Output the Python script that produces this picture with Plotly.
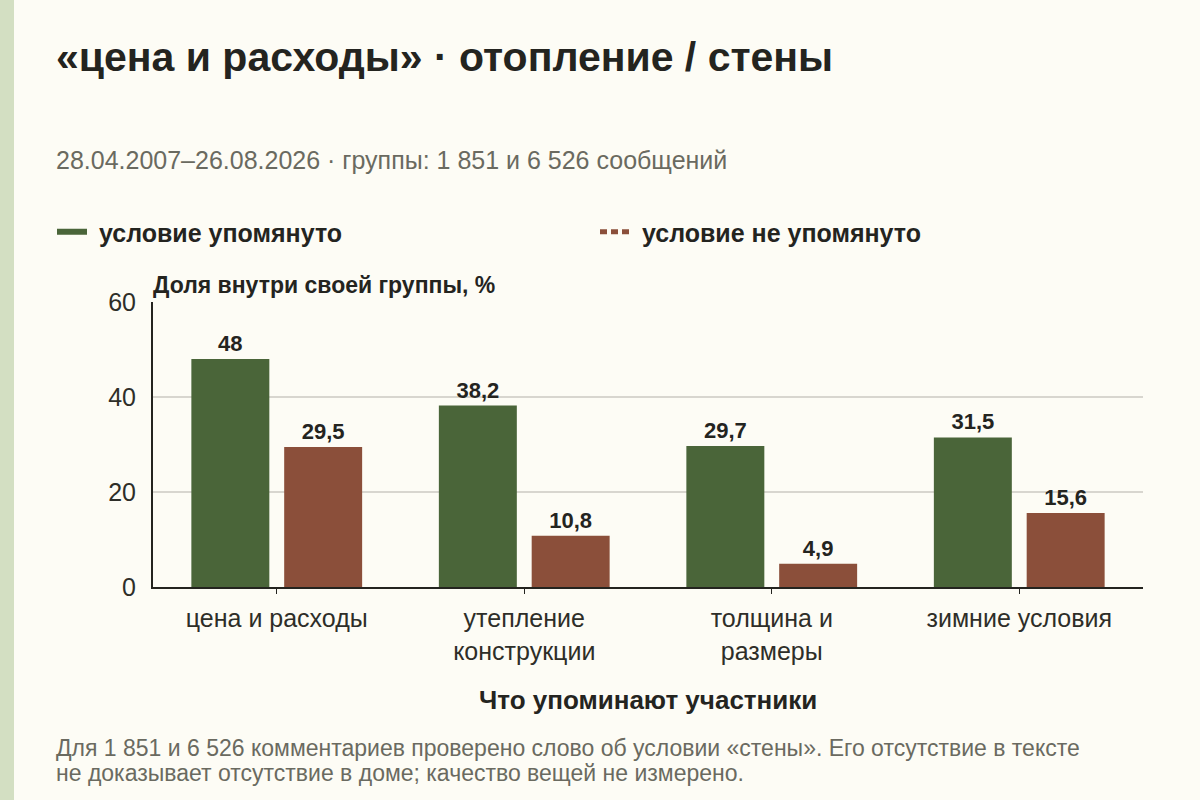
import plotly.graph_objects as go

categories = ["цена и расходы", "утепление<br>конструкции", "толщина и<br>размеры", "зимние условия"]
mentioned = [48, 38.2, 29.7, 31.5]
not_mentioned = [29.5, 10.8, 4.9, 15.6]
series_names = ["условие упомянуто", "условие не упомянуто"]
y_ticks = [0, 20, 40, 60]

GREEN = "#4a6539"
BROWN = "#8b4f3a"
BG = "#fdfcf5"
DARK = "#24241f"
GRAY = "#6a6a60"
FONT = "Liberation Sans, Arial, sans-serif"

def fmt(v):
    return f"{v:g}".replace(".", ",")

fig = go.Figure()
for vals, color in [(mentioned, GREEN), (not_mentioned, BROWN)]:
    fig.add_trace(go.Bar(
        x=categories, y=vals, marker_color=color, marker_line_width=0,
        text=[fmt(v) for v in vals], textposition="outside",
        textfont=dict(family=FONT, size=22, color=DARK, weight="bold"),
        cliponaxis=False, showlegend=False, hoverinfo="skip",
    ))

# legend entries (line symbols)
fig.add_trace(go.Scatter(x=[None], y=[None], mode="lines", name="\u00a0" + series_names[0],
                         line=dict(color=GREEN, width=6)))
fig.add_trace(go.Scatter(x=[None], y=[None], mode="lines", name="\u00a0" + series_names[1],
                         line=dict(color=BROWN, width=5, dash="7px,4px")))

W_PLOT = 1200 - 153 - 57
H_PLOT = 285
LEFT = (54 - 153) / W_PLOT
fig.update_layout(
    width=1200, height=800,
    paper_bgcolor=BG, plot_bgcolor=BG,
    margin=dict(l=153, r=57, t=302, b=213),
    barmode="group", bargap=0.25, bargroupgap=0.16,
    font=dict(family=FONT, color=DARK),
    separators=", ",
    showlegend=True,
    legend=dict(orientation="h", x=(52 - 153) / W_PLOT, xanchor="left",
                y=1 + (302 - 232) / H_PLOT, yanchor="middle",
                font=dict(family=FONT, size=25, color=DARK, weight="bold"),
                entrywidth=498, entrywidthmode="pixels", bgcolor="rgba(0,0,0,0)",
                itemclick=False),
    xaxis=dict(showline=True, linecolor=DARK, linewidth=2, ticks="outside",
               ticklen=5, tickcolor=DARK, tickwidth=1, ticklabelstandoff=3,
               tickfont=dict(family=FONT, size=25, color="#2e2e28"), showgrid=False),
    yaxis=dict(range=[0, 60], tickvals=y_ticks, showline=True, linecolor=DARK,
               linewidth=2, gridcolor="#d8d6cf", gridwidth=1.5, zeroline=False,
               ticks="", ticklabelstandoff=10,
               tickfont=dict(family=FONT, size=25, color="#2e2e28")),
    shapes=[dict(type="rect", xref="paper", yref="paper",
                 x0=-153 / W_PLOT, x1=(14 - 153) / W_PLOT, y0=-213 / H_PLOT, y1=1 + 302 / H_PLOT,
                 fillcolor="#d3dfc2", line_width=0, layer="below")],
    annotations=[
        dict(text="«цена и расходы» · отопление / стены", xref="paper", yref="paper",
             x=LEFT, y=1 + (302 - 57) / H_PLOT, xanchor="left", yanchor="middle",
             showarrow=False, font=dict(family=FONT, size=41, color=DARK, weight="bold")),
        dict(text="28.04.2007–26.08.2026 · группы: 1 851 и 6 526 сообщений", xref="paper", yref="paper",
             x=LEFT, y=1 + (302 - 160) / H_PLOT, xanchor="left", yanchor="middle",
             showarrow=False, font=dict(family=FONT, size=25, color=GRAY)),
        dict(text="Доля внутри своей группы, %", xref="paper", yref="paper",
             x=-2 / W_PLOT, y=1 + (302 - 285) / H_PLOT, xanchor="left", yanchor="middle",
             showarrow=False, font=dict(family=FONT, size=23, color=DARK, weight="bold")),
        dict(text="Что упоминают участники", xref="paper", yref="paper",
             x=0.5, y=-(700 - 587) / H_PLOT, xanchor="center", yanchor="middle",
             showarrow=False, font=dict(family=FONT, size=26, color=DARK, weight="bold")),
        dict(text="Для 1 851 и 6 526 комментариев проверено слово об условии «стены». Его отсутствие в тексте",
             xref="paper", yref="paper", align="left",
             x=LEFT, y=-(748 - 587) / H_PLOT, xanchor="left", yanchor="middle",
             showarrow=False, font=dict(family=FONT, size=23, color=GRAY)),
        dict(text="не доказывает отсутствие в доме; качество вещей не измерено.",
             xref="paper", yref="paper", align="left",
             x=LEFT, y=-(773 - 587) / H_PLOT, xanchor="left", yanchor="middle",
             showarrow=False, font=dict(family=FONT, size=23, color=GRAY)),
    ],
)
fig.update_xaxes(fixedrange=True)
fig.update_yaxes(fixedrange=True)
fig.write_html("out.html", config={"displayModeBar": False},
               post_script="document.body.style.margin='0';")
